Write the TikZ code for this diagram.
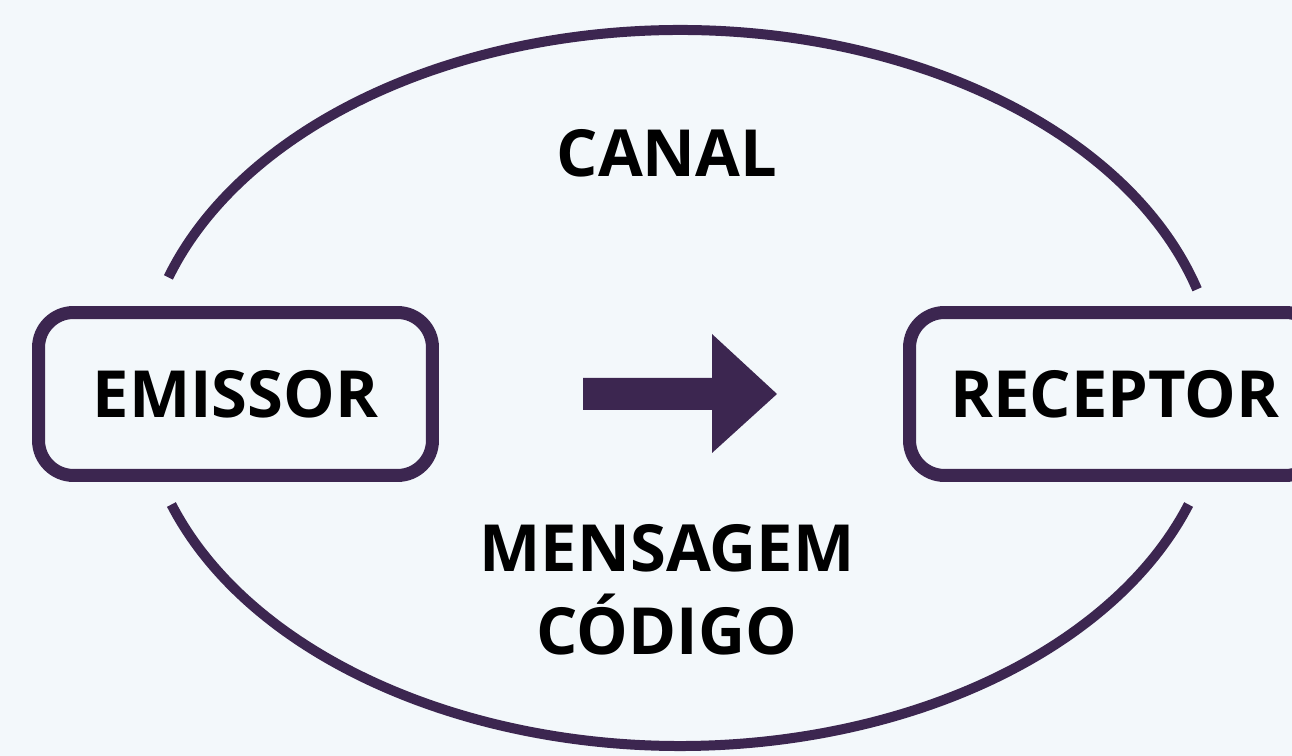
\documentclass[tikz,border=0pt]{standalone}
\usepackage{fontspec}
\setmainfont{Open Sans}
\definecolor{roxo}{HTML}{3C2650}
\definecolor{fundo}{HTML}{F3F8FB}

\begin{document}
\begin{tikzpicture}[x=0.02cm, y=0.02cm,
    rotulo/.style={font=\fontsize{37}{44}\selectfont\bfseries, text=black},
    caixa/.style={rotulo, draw=roxo, line width=0.26cm, rounded corners=0.7cm,
        minimum width=7.88cm, minimum height=3.26cm, inner sep=0pt}]
    % background
    \fill[fundo] (0,0) rectangle (1292,756);
    \useasboundingbox (0,0) rectangle (1292,756);
    \clip (0,0) rectangle (1292,756);
    % channel ellipse, in two arcs
    \coordinate (centro) at (680,368);
    \draw[roxo, line width=0.2cm] (centro) ++(16:10.76cm and 7.16cm)
        arc[start angle=16, end angle=162, x radius=10.76cm, y radius=7.16cm];
    \draw[roxo, line width=0.2cm] (centro) ++(199:10.76cm and 7.16cm)
        arc[start angle=199, end angle=341, x radius=10.76cm, y radius=7.16cm];
    % sender and receiver
    \node[caixa] (emissor) at (235.5,362) {EMISSOR};
    \node[caixa, minimum width=8.22cm] (receptor) at (1115,362) {RECEPTOR};
    % block arrow
    \fill[roxo] (583,346) -- (712,346) -- (712,303) -- (777,362)
        -- (712,422) -- (712,378) -- (583,378) -- cycle;
    % labels
    \node[rotulo, anchor=base] (canal) at (667,579) {CANAL};
    \node[rotulo, anchor=base] (mensagem) at (667,184) {MENSAGEM};
    \node[rotulo, anchor=base] (codigo) at (667,101) {CÓDIGO};
\end{tikzpicture}
\end{document}
